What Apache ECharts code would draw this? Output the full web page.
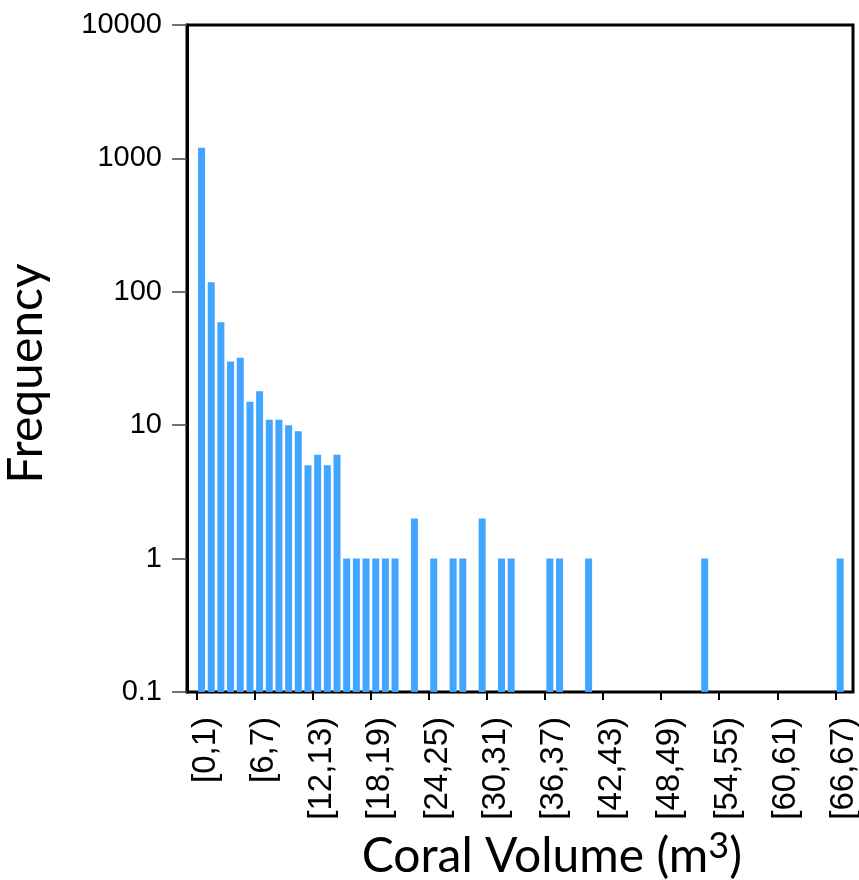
<!DOCTYPE html>
<html>
<head>
<meta charset="utf-8">
<script src="https://cdn.jsdelivr.net/npm/echarts@6/dist/echarts.min.js"></script>
<style>
  html, body { margin: 0; padding: 0; background: #fff; }
  #chart { width: 859px; height: 880px; }
</style>
</head>
<body>
<div id="chart"></div>
<script>
// volume bins [k, k+1) in m3
var categories = [
  '[0,1)', '[1,2)', '[2,3)', '[3,4)', '[4,5)', '[5,6)', '[6,7)', '[7,8)', '[8,9)', '[9,10)',
  '[10,11)', '[11,12)', '[12,13)', '[13,14)', '[14,15)', '[15,16)', '[16,17)', '[17,18)', '[18,19)', '[19,20)',
  '[20,21)', '[21,22)', '[22,23)', '[23,24)', '[24,25)', '[25,26)', '[26,27)', '[27,28)', '[28,29)', '[29,30)',
  '[30,31)', '[31,32)', '[32,33)', '[33,34)', '[34,35)', '[35,36)', '[36,37)', '[37,38)', '[38,39)', '[39,40)',
  '[40,41)', '[41,42)', '[42,43)', '[43,44)', '[44,45)', '[45,46)', '[46,47)', '[47,48)', '[48,49)', '[49,50)',
  '[50,51)', '[51,52)', '[52,53)', '[53,54)', '[54,55)', '[55,56)', '[56,57)', '[57,58)', '[58,59)', '[59,60)',
  '[60,61)', '[61,62)', '[62,63)', '[63,64)', '[64,65)', '[65,66)', '[66,67)'
]

// counts per bin, null = empty bin (no bar on log axis)
var frequency = [
  1200, 118, 59, 30, 32, 15, 18, 11, 11, 10,
  9, 5, 6, 5, 6, 1, 1, 1, 1, 1,
  1, null, 2, null, 1, null, 1, 1, null, 2,
  null, 1, 1, null, null, null, 1, 1, null, null,
  1, null, null, null, null, null, null, null, null, null,
  null, null, 1, null, null, null, null, null, null, null,
  null, null, null, null, null, null, 1
]

// tick marks sit on the left edge of every 6th bin
var xTickEdges = [0, 6, 12, 18, 24, 30, 36, 42, 48, 54, 60, 66]
var yTicks = [0.1, 1, 10, 100, 1000, 10000]

var chart = echarts.init(document.getElementById('chart'), null, { renderer: 'canvas' })

var plotBox = { left: 196.7, right: 14, top: 25, bottom: 188, outerBoundsMode: 'none' }

var option = {
  animation: false,
  backgroundColor: '#fff',
  grid: [
    {
      left: 187, right: 6, top: 25, bottom: 188,
      show: true,
      borderColor: '#000',
      borderWidth: 3,
      outerBoundsMode: 'none'
    },
    plotBox,
    plotBox
  ],
  xAxis: [
    {
      gridIndex: 0,
      type: 'value',
      min: 0,
      max: 1,
      show: false
    },
    {
      gridIndex: 1,
      type: 'category',
      data: categories,
      axisLine: { show: false },
      axisTick: { show: false },
      axisLabel: {
        interval: 5,
        rotate: 90,
        margin: 25,
        verticalAlign: 'top',
        lineHeight: 8,
        fontFamily: 'Liberation Sans',
        fontSize: 33,
        color: '#000'
      },
      splitLine: { show: false },
      name: 'Coral Volume (m{sup|3})',
      nameLocation: 'middle',
      nameGap: 104,
      nameTextStyle: {
        fontFamily: 'Lato',
        fontSize: 48,
        lineHeight: 58,
        color: '#000',
        padding: [0, 0, 0, 62],
        rich: {
          sup: {
            fontFamily: 'Lato',
            fontSize: 36,
            lineHeight: 36,
            padding: [0, 0, 20, 0],
            color: '#000'
          }
        }
      }
    },
    {
      gridIndex: 2,
      type: 'value',
      min: 0,
      max: categories.length,
      axisLine: { show: false },
      axisTick: {
        show: true,
        customValues: xTickEdges,
        length: 8,
        lineStyle: { color: '#000', width: 2 }
      },
      axisLabel: { show: false },
      splitLine: { show: false }
    }
  ],
  yAxis: [
    {
      gridIndex: 0,
      type: 'log',
      logBase: 10,
      min: yTicks[0],
      max: yTicks[yTicks.length - 1],
      axisLine: { show: true, lineStyle: { color: '#000', width: 3 } },
      axisTick: { show: true, length: 15, lineStyle: { color: '#444', width: 1.5 } },
      axisLabel: {
        margin: 25,
        fontFamily: 'Liberation Sans',
        fontSize: 29,
        color: '#000',
        formatter: function(v) {
          var best = yTicks[0]
          yTicks.forEach(function(t) {
            if (Math.abs(Math.log10(t) - Math.log10(v)) < Math.abs(Math.log10(best) - Math.log10(v))) best = t
          })
          return String(best)
        }
      },
      splitLine: { show: false },
      name: 'Frequency',
      nameLocation: 'middle',
      nameGap: 136,
      nameTextStyle: {
        fontFamily: 'Lato',
        fontSize: 48,
        color: '#000',
        padding: [0, 30, 0, 0]
      }
    },
    {
      gridIndex: 1,
      type: 'log',
      logBase: 10,
      min: yTicks[0],
      max: yTicks[yTicks.length - 1],
      startValue: yTicks[0],
      show: false
    },
    {
      gridIndex: 2,
      type: 'value',
      show: false
    }
  ],
  series: [
    {
      name: 'Frequency',
      type: 'bar',
      xAxisIndex: 1,
      yAxisIndex: 1,
      data: frequency,
      barWidth: 7,
      itemStyle: { color: '#42a5ff' },
      silent: true
    }
  ]
}

chart.setOption(option)
</script>
</body>
</html>
